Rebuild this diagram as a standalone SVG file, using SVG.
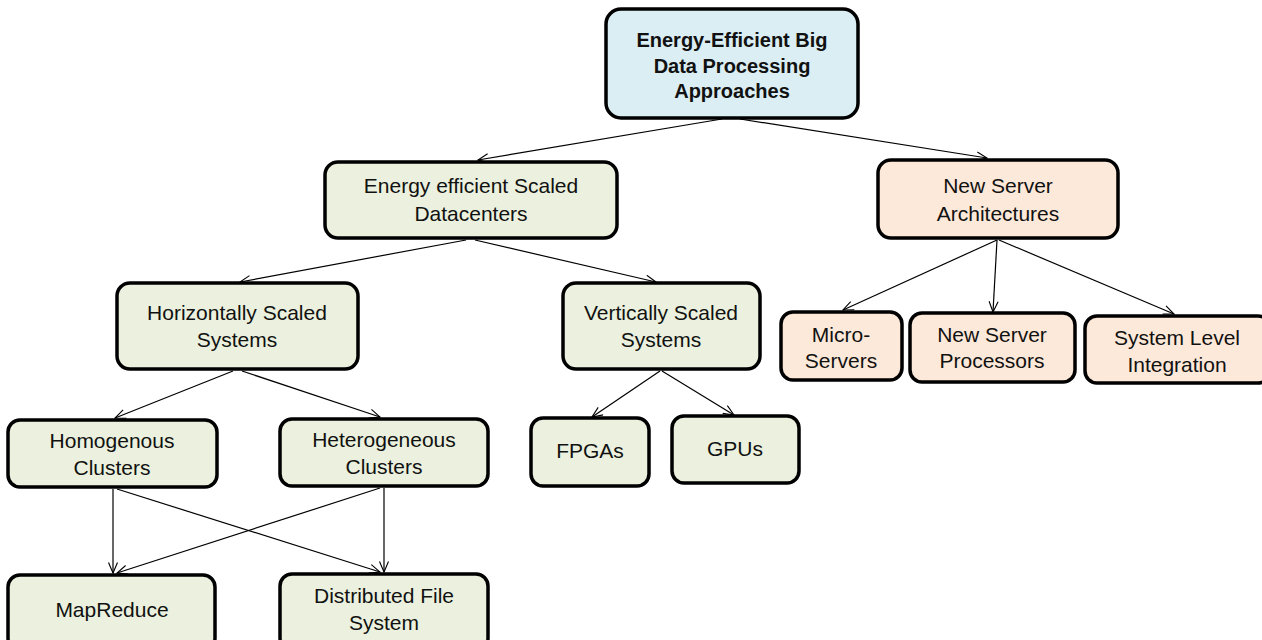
<svg xmlns="http://www.w3.org/2000/svg" width="1262" height="640" viewBox="0 0 1262 640">
<defs>
<marker id="arr" markerUnits="userSpaceOnUse" markerWidth="14" markerHeight="12" refX="11" refY="5" orient="auto">
<path d="M0.5,0.5 L11,5 L0.5,9.5" fill="none" stroke="#000" stroke-width="1.1"/>
</marker>
<style>
.box{stroke:#000;stroke-width:3.5}
.blue{fill:#dbeef4}
.green{fill:#ebf1de}
.orange{fill:#fde9d9}
text{font-family:"Liberation Sans",Arial,sans-serif;font-size:21px;fill:#111;text-anchor:middle}
.title{font-weight:bold;font-size:20px}
.conn line{stroke:#000;stroke-width:1.2;marker-end:url(#arr)}
</style>
</defs>
<rect width="1262" height="640" fill="#fff"/>
<g id="connectors" class="conn">
<line x1="722" y1="119" x2="478" y2="160"/>
<line x1="740" y1="119" x2="987" y2="158"/>
<line x1="466" y1="240" x2="240" y2="282"/>
<line x1="475" y1="240" x2="656" y2="282"/>
<line x1="233" y1="371" x2="115" y2="418"/>
<line x1="242" y1="371" x2="380" y2="417"/>
<line x1="660" y1="371" x2="592" y2="417"/>
<line x1="662" y1="371" x2="734" y2="415"/>
<line x1="997" y1="240" x2="843" y2="310"/>
<line x1="997" y1="240" x2="993" y2="312"/>
<line x1="999" y1="240" x2="1174" y2="314"/>
<line x1="113" y1="489" x2="113" y2="573"/>
<line x1="117" y1="489" x2="380" y2="572"/>
<line x1="380" y1="488" x2="117" y2="573"/>
<line x1="384" y1="488" x2="384" y2="572"/>
</g>
<g id="n-root">
<rect class="box blue" x="606" y="9" width="252" height="109" rx="15"/>
<text class="title" x="732" y="47">Energy-Efficient Big</text>
<text class="title" x="732" y="73">Data Processing</text>
<text class="title" x="732" y="98">Approaches</text>
</g>
<g id="n-scaled">
<rect class="box green" x="325" y="162" width="292" height="76" rx="13"/>
<text x="471" y="193">Energy efficient Scaled</text>
<text x="471" y="221">Datacenters</text>
</g>
<g id="n-newarch">
<rect class="box orange" x="878" y="160" width="240" height="78" rx="13"/>
<text x="998" y="193">New Server</text>
<text x="998" y="221">Architectures</text>
</g>
<g id="n-horiz">
<rect class="box green" x="117" y="283" width="241" height="86" rx="13"/>
<text x="237" y="320">Horizontally Scaled</text>
<text x="237" y="347">Systems</text>
</g>
<g id="n-vert">
<rect class="box green" x="563" y="283" width="197" height="86" rx="13"/>
<text x="661" y="320">Vertically Scaled</text>
<text x="661" y="347">Systems</text>
</g>
<g id="n-micro">
<rect class="box orange" x="781" y="312" width="121" height="68" rx="12"/>
<text x="841" y="342">Micro-</text>
<text x="841" y="368">Servers</text>
</g>
<g id="n-proc">
<rect class="box orange" x="910" y="313" width="165" height="69" rx="12"/>
<text x="992" y="342">New Server</text>
<text x="992" y="368">Processors</text>
</g>
<g id="n-syslevel">
<rect class="box orange" x="1085" y="316" width="185" height="67" rx="12"/>
<text x="1177" y="345">System Level</text>
<text x="1177" y="372">Integration</text>
</g>
<g id="n-homog">
<rect class="box green" x="8" y="420" width="209" height="67" rx="12"/>
<text x="112" y="448">Homogenous</text>
<text x="112" y="475">Clusters</text>
</g>
<g id="n-hetero">
<rect class="box green" x="280" y="419" width="208" height="67" rx="12"/>
<text x="384" y="447">Heterogeneous</text>
<text x="384" y="474">Clusters</text>
</g>
<g id="n-fpga">
<rect class="box green" x="531" y="418" width="118" height="68" rx="12"/>
<text x="590" y="458">FPGAs</text>
</g>
<g id="n-gpu">
<rect class="box green" x="672" y="416" width="127" height="67" rx="12"/>
<text x="735" y="456">GPUs</text>
</g>
<g id="n-mapreduce">
<rect class="box green" x="8" y="575" width="207" height="75" rx="12"/>
<text x="112" y="617">MapReduce</text>
</g>
<g id="n-dfs">
<rect class="box green" x="280" y="574" width="208" height="76" rx="12"/>
<text x="384" y="603">Distributed File</text>
<text x="384" y="630">System</text>
</g>
</svg>
